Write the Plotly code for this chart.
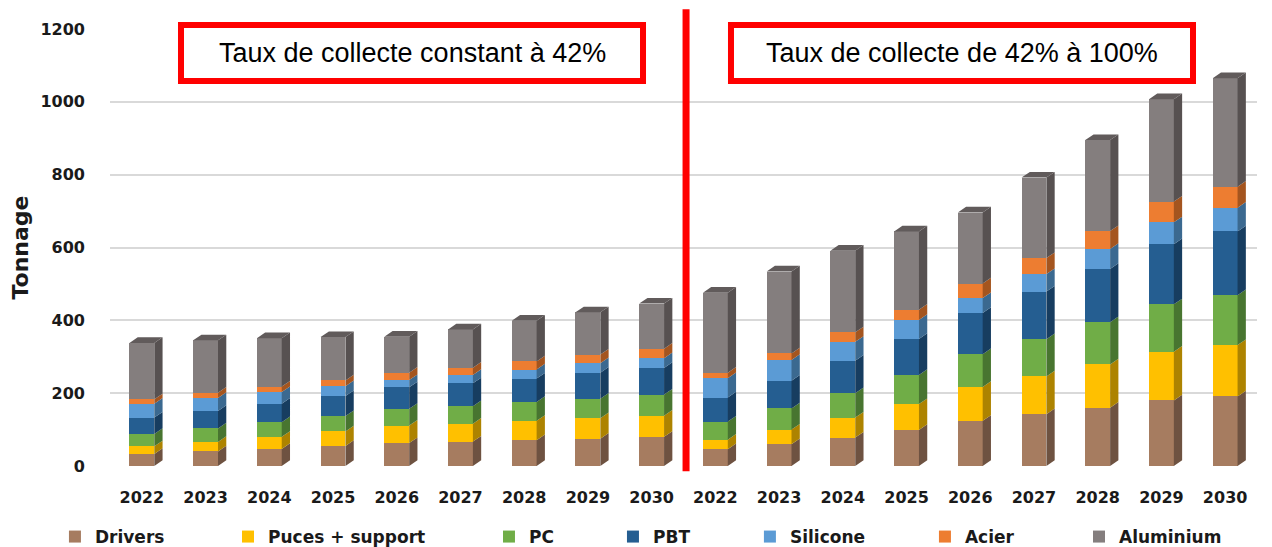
import plotly.graph_objects as go

years = ["2022", "2023", "2024", "2025", "2026", "2027", "2028", "2029", "2030"]
series_names = ["Drivers", "Puces + support", "PC", "PBT", "Silicone", "Acier", "Aluminium"]

# Scenario 1: taux de collecte constant à 42%
drivers_const = [33, 40, 47, 55, 63, 67, 71, 75, 80]
puces_const = [21, 26, 33, 40, 48, 49, 53, 56, 58]
pc_const = [34, 37, 40, 42, 46, 48, 52, 54, 58]
pbt_const = [45, 48, 51, 55, 59, 63, 64, 71, 73]
silicone_const = [38, 36, 32, 27, 20, 23, 25, 26, 27]
acier_const = [12, 14, 15, 16, 20, 20, 22, 24, 26]
alu_const = [155, 144, 133, 119, 99, 105, 112, 116, 124]

# Scenario 2: taux de collecte de 42% à 100%
drivers_var = [46, 60, 78, 99, 124, 142, 160, 180, 191]
puces_var = [26, 40, 55, 71, 93, 104, 119, 134, 141]
pc_var = [50, 58, 67, 80, 90, 102, 116, 130, 137]
pbt_var = [66, 76, 89, 99, 113, 131, 146, 165, 175]
silicone_var = [53, 57, 52, 52, 41, 48, 55, 60, 65]
acier_var = [15, 18, 26, 28, 40, 44, 49, 57, 58]
alu_var = [220, 225, 224, 215, 195, 221, 250, 281, 298]

front_colors = ["#A67C60", "#FFC000", "#70AD47", "#255E91", "#5B9BD5", "#ED7D31", "#847E7E"]
side_colors = ["#6E5241", "#AD8300", "#487530", "#173D60", "#3B6990", "#A4551F", "#575151"]
top_color = "#615B5B"

series_values = [
    drivers_const + drivers_var,
    puces_const + puces_var,
    pc_const + pc_var,
    pbt_const + pbt_var,
    silicone_const + silicone_var,
    acier_const + acier_var,
    alu_const + alu_var,
]
labels = years + years
n = len(labels)
xs = list(range(n))

BAR_W = 0.39
DX = 0.13     # depth offset (category units)
DY = 15.6     # depth offset (value units)

fig = go.Figure()

font_bold = "DejaVu Sans"

# legend positions (paper x)
legend_x = [-0.048, 0.1029, 0.3304, 0.4385, 0.5579, 0.7105, 0.8448]

cum = [0.0] * n
side_traces = []
for k, (name, vals) in enumerate(zip(series_names, series_values)):
    lg = "legend" if k == 0 else f"legend{k+1}"
    fig.add_trace(go.Bar(
        x=xs, y=vals, name=name, width=BAR_W,
        marker=dict(color=front_colors[k], line=dict(width=0)),
        legend=lg,
        hovertemplate=name + ": %{y}<extra></extra>",
    ))
    sx, sy = [], []
    for i in xs:
        b = cum[i]
        t = cum[i] + vals[i]
        xr = i + BAR_W / 2
        sx += [xr, xr + DX, xr + DX, xr, xr, None]
        sy += [b, b + DY, t + DY, t, b, None]
        cum[i] = t
    side_traces.append(go.Scatter(
        x=sx, y=sy, mode="lines", fill="toself", fillcolor=side_colors[k],
        line=dict(width=0, color=side_colors[k]), showlegend=False, hoverinfo="skip",
    ))

for tr in side_traces:
    fig.add_trace(tr)

# top faces
tx, ty = [], []
for i in xs:
    T = cum[i]
    xl = i - BAR_W / 2
    xr = i + BAR_W / 2
    tx += [xl, xl + DX, xr + DX, xr, xl, None]
    ty += [T, T + DY, T + DY, T, T, None]
fig.add_trace(go.Scatter(
    x=tx, y=ty, mode="lines", fill="toself", fillcolor=top_color,
    line=dict(width=0, color=top_color), showlegend=False, hoverinfo="skip",
))

layout_legends = {}
for k in range(len(series_names)):
    key = "legend" if k == 0 else f"legend{k+1}"
    layout_legends[key] = dict(
        x=legend_x[k], y=-0.1625, xanchor="left", yanchor="middle",
        orientation="h", bgcolor="rgba(0,0,0,0)",
        font=dict(family=font_bold, size=17, color="#1a1a1a", weight="bold"),
        itemclick=False, itemdoubleclick=False,
    )

fig.update_layout(
    width=1264, height=539,
    margin=dict(l=102, r=15, t=21, b=81, autoexpand=False),
    plot_bgcolor="white", paper_bgcolor="white",
    barmode="stack",
    bargap=0.6,
    **layout_legends,
    xaxis=dict(
        range=[-0.5, n - 0.5], tickvals=xs, ticktext=labels,
        showgrid=False, zeroline=False, showline=False,
        tickfont=dict(family=font_bold, size=16, color="#1a1a1a", weight="bold"),
        ticks="", ticklabelstandoff=20,
    ),
    yaxis=dict(
        range=[0, 1200], tickvals=[0, 200, 400, 600, 800, 1000, 1200],
        showgrid=True, gridcolor="#d9d9d9", gridwidth=1.5, zeroline=False, showline=False,
        tickfont=dict(family=font_bold, size=16, color="#1a1a1a", weight="bold"),
        ticks="", ticklabelstandoff=24,
        title=dict(text="Tonnage", standoff=6,
                   font=dict(family=font_bold, size=22, color="#1a1a1a", weight="bold")),
    ),
)

# Divider between scenarios
fig.add_shape(type="line", xref="x", yref="paper", x0=8.54, x1=8.54, y0=-0.012, y1=1.045,
              line=dict(color="#FF0000", width=7), layer="above")

# Scenario boxes
boxes = [
    (0.0619, 0.4647, "Taux de collecte constant à 42%"),
    (0.5414, 0.9442, "Taux de collecte de 42% à 100%"),
]
for x0, x1, txt in boxes:
    fig.add_shape(type="rect", xref="paper", yref="paper", x0=x0, x1=x1, y0=0.881, y1=1.009,
                  line=dict(color="#FF0000", width=6), fillcolor="white", layer="above")
    fig.add_annotation(xref="paper", yref="paper", x=(x0 + x1) / 2, y=0.945, text=txt,
                       showarrow=False, xanchor="center", yanchor="middle",
                       font=dict(family="Liberation Sans", size=27, color="#000000"))

fig.write_html("out.html")
